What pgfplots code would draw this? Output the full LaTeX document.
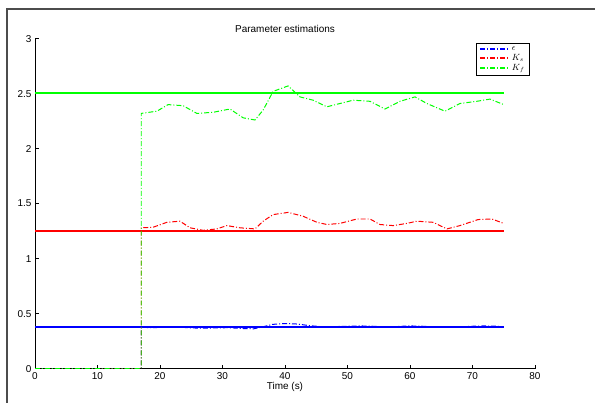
\documentclass[border=0pt]{standalone}
\usepackage{fontspec}
\setmainfont{Liberation Sans}
\usepackage{pgfplots}
\pgfplotsset{compat=1.18}
\begin{document}
\begin{tikzpicture}[x=1bp,y=1bp]
\useasboundingbox (0bp,0bp) rectangle (595bp,403bp);
\fill[white] (0bp,0bp) rectangle (595bp,403bp);
\draw[black!70, line width=1.2bp] (7bp,0bp) -- (7bp,394bp) -- (595bp,394bp);
\begin{axis}[
  at={(35bp,34.4bp)}, anchor=south west,
  scale only axis, width=500bp, height=330bp,
  xmin=0, xmax=80, ymin=0, ymax=3,
  axis x line*=bottom, axis y line*=left,
  axis line style={-, black, line width=0.6pt},
  tick align=inside, major tick length=4pt,
  tick style={black, line width=0.6pt},
  xtick={0,10,...,80}, ytick={0,0.5,...,3},
  yticklabels={0,0.5,1,1.5,2,2.5,3},
  /pgf/number format/assume math mode=true,
  ticklabel style={font=\fontsize{10}{12}\selectfont},
  title={Parameter estimations},
  title style={font=\fontsize{10}{12}\selectfont, yshift=-4pt},
  xlabel={Time (s)},
  xlabel style={font=\fontsize{10}{12}\selectfont, yshift=4pt},
  legend style={at={(0.99,0.988)}, anchor=north east, draw=black, line width=0.9pt,
    font=\fontsize{9}{9}\selectfont, inner xsep=3pt, inner ysep=1.5pt, row sep=-1.5pt, cells={anchor=west}},
  legend cell align=left,
  legend image code/.code={\draw[line width=2bp, #1] (0pt,0.4pt) -- (29pt,0.4pt);},
]
\addplot[color=blue, line width=2bp, solid, forget plot] coordinates {(0,0.37818) (75,0.37818)};
\addplot[color=red, line width=2bp, solid, forget plot] coordinates {(0,1.25091) (75,1.25091)};
\addplot[color=green, line width=2bp, solid, forget plot] coordinates {(0,2.50545) (75,2.50545)};

\addplot[color=blue, line width=1pt, dash pattern=on 5pt off 2pt on 1pt off 2pt] coordinates {
(0,0) (17,0) (17,0.375) (19,0.372) (21,0.378) (23,0.377) (25,0.37) (27,0.367) (29,0.37)
(31,0.372) (33,0.365) (35,0.362) (36.5,0.38) (38,0.402) (40,0.41) (42,0.405) (44,0.39)
(46,0.38) (48,0.382) (50,0.385) (52,0.388) (54,0.385) (56,0.38) (58,0.383) (60,0.388)
(62,0.385) (64,0.38) (66,0.375) (68,0.38) (70,0.385) (72,0.388) (74,0.385) (75,0.38)};
\addlegendentry{$\epsilon$}

\addplot[color=red, line width=1pt, dash pattern=on 5pt off 2pt on 1pt off 2pt] coordinates {
(0,0) (17,0) (17,1.28) (18.9,1.285) (21.1,1.33) (23.2,1.34) (24.8,1.28) (26.9,1.257)
(29.1,1.27) (30.7,1.30) (32.8,1.28) (35.2,1.27) (36.5,1.34) (38.1,1.40) (40.5,1.42)
(42.9,1.385) (45.1,1.33) (46.7,1.31) (48.8,1.32) (51.5,1.36) (53.6,1.36) (55.2,1.31)
(57.3,1.30) (59.5,1.32) (61.1,1.34) (63.7,1.33) (65.9,1.27) (68,1.30) (70.9,1.355)
(73.1,1.36) (75,1.32)};
\addlegendentry{$K_s$}

\addplot[color=green, line width=1pt, dash pattern=on 5pt off 2pt on 1pt off 2pt] coordinates {
(0,0) (17,0) (17,2.32) (19.5,2.34) (21.3,2.40) (23.7,2.39) (25.9,2.32) (28.5,2.33)
(31.2,2.36) (33.3,2.28) (35.2,2.26) (36.5,2.35) (38.1,2.52) (40.5,2.57) (42.4,2.47)
(44.5,2.44) (46.7,2.38) (48.8,2.41) (50.9,2.44) (53.6,2.43) (56,2.36) (58.4,2.43)
(60.8,2.47) (62.7,2.41) (65.6,2.34) (68,2.41) (70.7,2.43) (72.8,2.45) (75,2.40)};
\addlegendentry{$K_f$}
\end{axis}
\end{tikzpicture}
\end{document}
